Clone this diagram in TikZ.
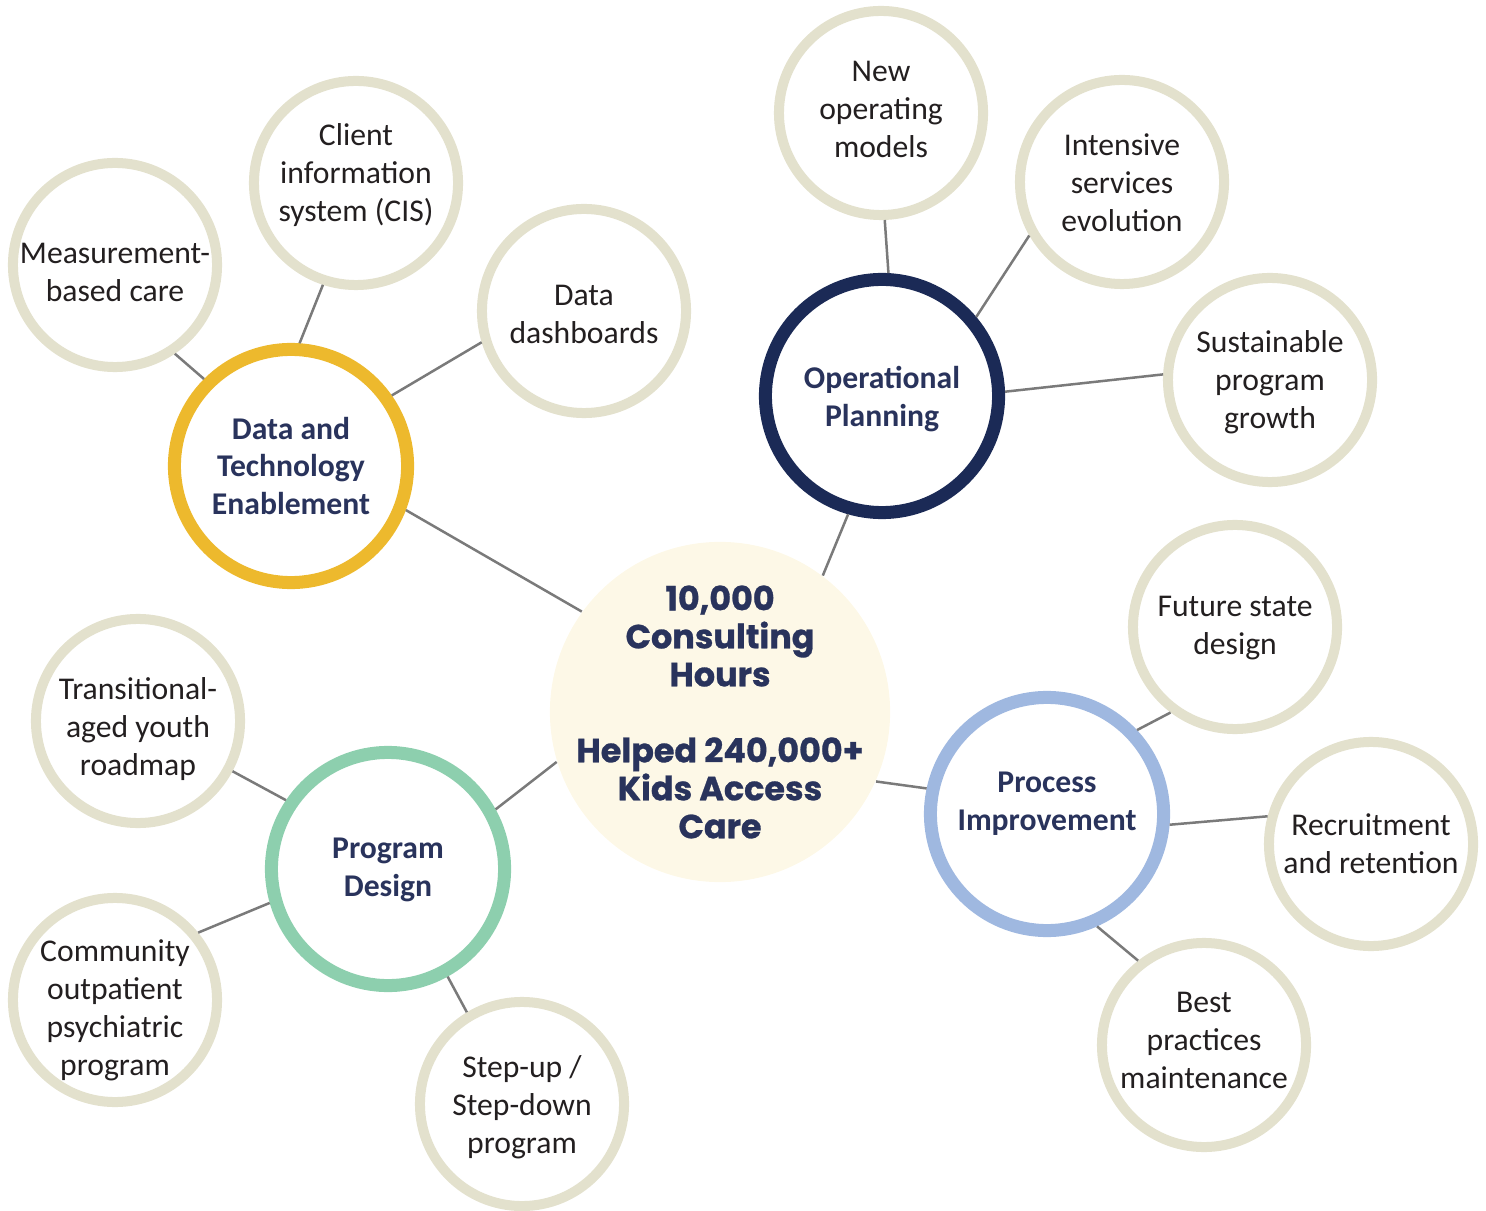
\documentclass[tikz,border=0pt]{standalone}
\usepackage{fontspec}
\setmainfont{Carlito}
\newfontfamily\hubfont{Poppins}[BoldFeatures={FakeBold=0.8}]
\usepackage{xcolor}
\usepackage{tikz}

\definecolor{ringbeige}{HTML}{E3E1CD}
\definecolor{ringgold}{HTML}{EDB92D}
\definecolor{ringnavy}{HTML}{1B2A56}
\definecolor{ringgreen}{HTML}{8DCFAE}
\definecolor{ringblue}{HTML}{9FB8E0}
\definecolor{hubfill}{HTML}{FDF8E7}
\definecolor{inknavy}{HTML}{29335C}
\definecolor{inkdark}{HTML}{231F20}
\definecolor{linkgray}{HTML}{7A7A7A}

\begin{document}
\begin{tikzpicture}[
  x=0.01cm, y=-0.01cm,
  minor/.style={circle, draw=ringbeige, line width=1mm, minimum size=20.4mm, inner sep=0pt, fill=white},
  major/.style={circle, draw=#1, line width=1.3mm, minimum size=23.3mm, inner sep=0pt, fill=white},
  hub/.style={circle, fill=hubfill, minimum size=34mm, inner sep=0pt},
  minortext/.style={align=center, inner sep=0pt, text=inkdark, font=\fontsize{9pt}{10.8pt}\selectfont},
  majortext/.style={align=center, inner sep=0pt, text=inknavy, font=\fontsize{9pt}{10.8pt}\selectfont\bfseries},
  hubtext/.style={align=center, inner sep=0pt, text=inknavy, font=\hubfont\fontsize{9.5pt}{10.8pt}\selectfont\bfseries},
  link/.style={draw=linkgray, line width=0.25mm},
]
\useasboundingbox (0,0) rectangle (1486,1210);
% centre
\node[hub] (hub) at (720,712) {};
\node[hubtext] (hub-t) at (720,712) {10,000\\Consulting\\Hours\\[10.8pt]Helped 240,000+\\Kids Access\\Care};
% four themes
\node[major=ringgold] (data) at (291,466) {};
\node[majortext] (data-t) at (291,466) {Data and\\Technology\\Enablement};
\node[major=ringnavy] (oper) at (882,396) {};
\node[majortext] (oper-t) at (882,399) {Operational\\Planning};
\node[major=ringblue] (proc) at (1047,814) {};
\node[majortext] (proc-t) at (1047,804) {Process\\Improvement};
\node[major=ringgreen] (prog) at (388,869) {};
\node[majortext] (prog-t) at (388,870) {Program\\Design};
% data and technology
\node[minor] (meas) at (115,265) {};
\node[minortext] (meas-t) at (115,272) {Measurement-\\based care};
\node[minor] (cis) at (356,183) {};
\node[minortext] (cis-t) at (356,175) {Client\\information\\system (CIS)};
\node[minor] (dash) at (584,311) {};
\node[minortext] (dash-t) at (584,314) {Data\\dashboards};
% operational planning
\node[minor] (nom) at (881,113) {};
\node[minortext] (nom-t) at (881,109) {New\\operating\\models};
\node[minor] (ise) at (1122,182) {};
\node[minortext] (ise-t) at (1122,183) {Intensive\\services\\evolution};
\node[minor] (spg) at (1270,380) {};
\node[minortext] (spg-t) at (1270,382) {Sustainable\\program\\growth};
% process improvement
\node[minor] (fsd) at (1235,627) {};
\node[minortext] (fsd-t) at (1235,628) {Future state\\design};
\node[minor] (rr) at (1371,844) {};
\node[minortext] (rr-t) at (1371,844) {Recruitment\\and retention};
\node[minor] (bpm) at (1204,1045) {};
\node[minortext] (bpm-t) at (1204,1040) {Best\\practices\\maintenance};
% program design
\node[minor] (tay) at (138,721) {};
\node[minortext] (tay-t) at (138,729) {Transitional-\\aged youth\\roadmap};
\node[minor] (cop) at (115,1000) {};
\node[minortext] (cop-t) at (115,1010) {Community\\outpatient\\psychiatric\\program};
\node[minor] (sud) at (522,1104) {};
\node[minortext] (sud-t) at (522,1107) {Step-up /\\Step-down\\program};
% links
\draw[link] (meas.-56) -- (data.135);
\draw[link] (cis.-108) -- (data.86);
\draw[link] (dash.197) -- (data.35);
\draw[link] (data.-21) -- (hub.144);
\draw[link] (nom.-88) -- (oper.87);
\draw[link] (ise.210) -- (oper.40);
\draw[link] (spg.177) -- (oper.2);
\draw[link] (oper.-106) -- (hub.53);
\draw[link] (hub.-24) -- (proc.168);
\draw[link] (fsd.-127) -- (proc.43);
\draw[link] (rr.165) -- (proc.-5);
\draw[link] (bpm.128) -- (proc.-66);
\draw[link] (tay.-28) -- (prog.146);
\draw[link] (cop.39) -- (prog.196);
\draw[link] (sud.121) -- (prog.-61);
\draw[link] (hub.197) -- (prog.29);
\end{tikzpicture}
\end{document}
